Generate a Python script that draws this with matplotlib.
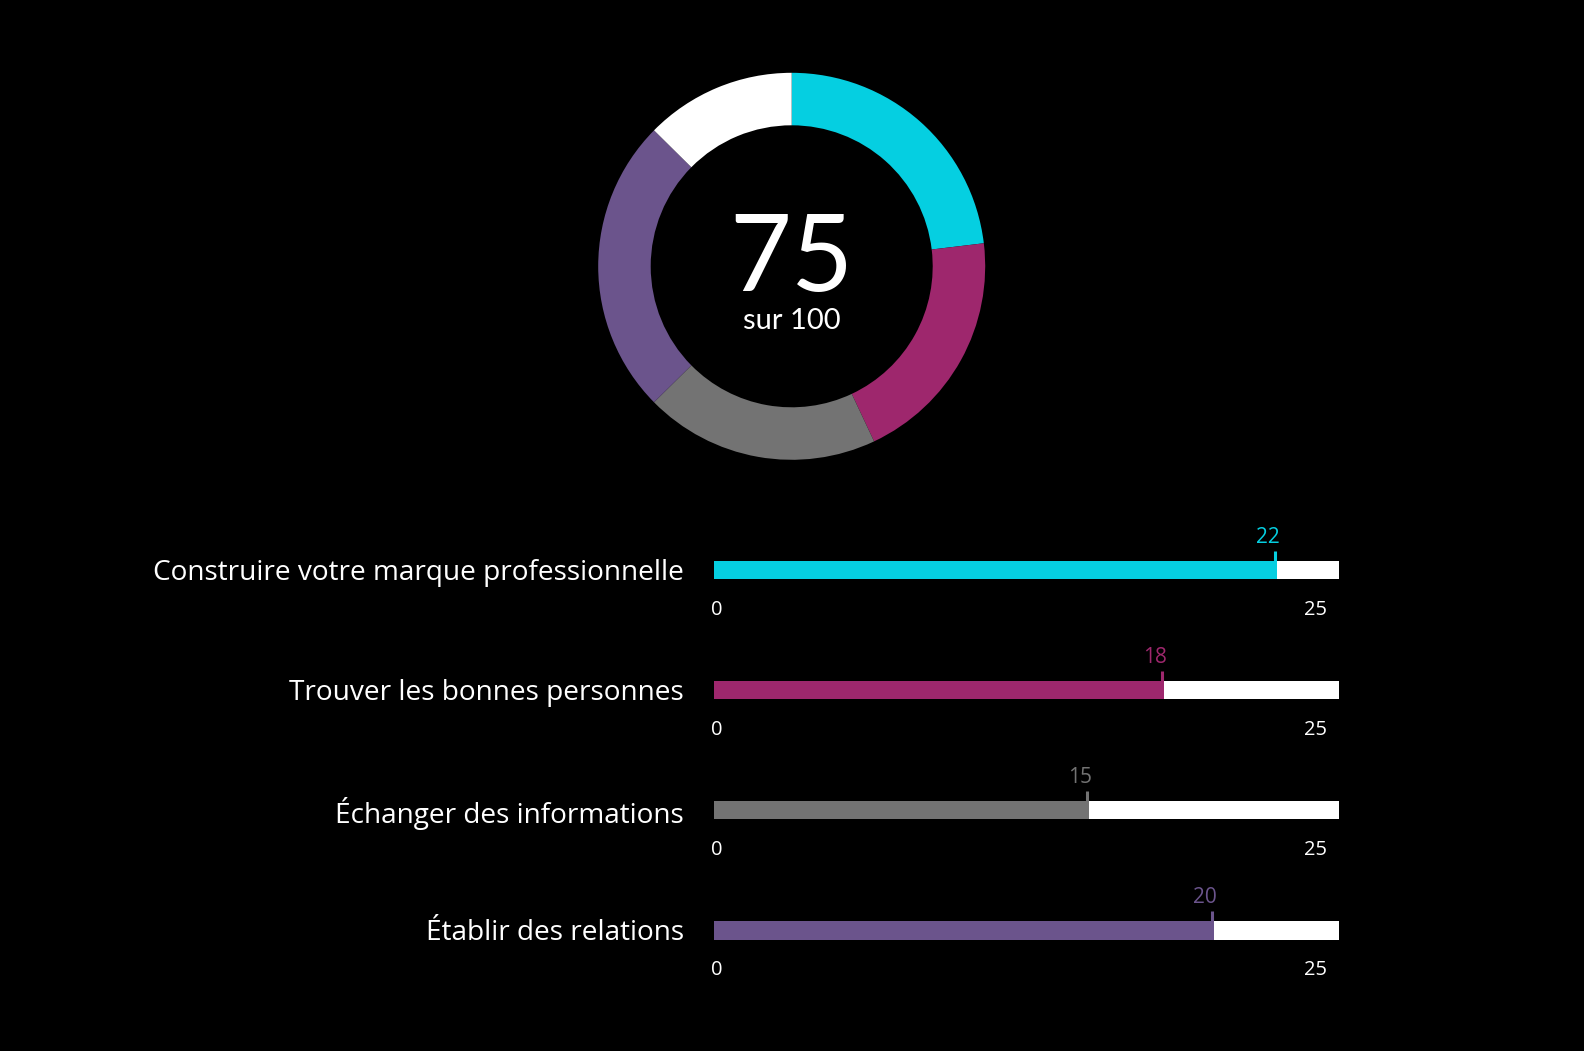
import matplotlib
matplotlib.use("Agg")
import matplotlib.pyplot as plt

# ---- data ----
categories = ["Construire votre marque professionnelle",
              "Trouver les bonnes personnes",
              "Échanger des informations",
              "Établir des relations"]
scores = [22.5, 18, 15, 20]
score_labels = ["22", "18", "15", "20"]
max_score = 25
axis_labels = ["0", "25"]
donut_values = [23.1, 19.9, 19.6, 24.8, 12.6]
total_label = "75"
total_sub = "sur 100"

colors = ["#05CFE1", "#9E276D", "#737373", "#6B548C"]
rest_color = "#FFFFFF"

W, H = 1584, 1051
fig = plt.figure(figsize=(W / 100, H / 100), dpi=100, facecolor="black")
FONT = "Open Sans"

# ---- donut ----
cx, cy, r_out, r_in = 791.7, 266.3, 193.5, 141.0
axd = fig.add_axes([(cx - r_out) / W, 1 - (cy + r_out) / H, 2 * r_out / W, 2 * r_out / H])
axd.set_facecolor("black")
axd.pie(donut_values, colors=colors + [rest_color], startangle=90, counterclock=False,
        radius=1, wedgeprops=dict(width=(r_out - r_in) / r_out, linewidth=0))
axd.set_xlim(-1, 1)
axd.set_ylim(-1, 1)
axd.set_aspect("auto")
axd.axis("off")
axd.text(0, -0.128, total_label, ha="center", va="baseline", color="white",
         fontsize=77, family="Lato")
axd.text(0, -0.325, total_sub, ha="center", va="baseline", color="white",
         fontsize=21, family="Lato")

# ---- bars ----
x0, x1 = 714.2, 1339.0
row0, step = 569.8, 120.2
top = row0 - step / 2
axb = fig.add_axes([x0 / W, 1 - (top + 4 * step) / H, (x1 - x0) / W, 4 * step / H])
axb.set_facecolor("none")
axb.set_xlim(0, max_score)
axb.set_ylim(3.5, -0.5)
axb.axis("off")

bh = 18.5 / step
for i, (cat, s, lab, c) in enumerate(zip(categories, scores, score_labels, colors)):
    axb.barh(i, max_score, height=bh, color=rest_color, linewidth=0)
    axb.barh(i, s, height=bh, color=c, linewidth=0)
    # tick above bar end
    axb.plot([s - 0.08, s - 0.08], [i - bh / 2, i - bh / 2 - 10 / step], color=c, lw=2.2,
             solid_capstyle="butt")
    axb.annotate(lab, (s, i - bh / 2), xytext=(3, 18), textcoords="offset pixels",
                 ha="right", va="baseline", color=c, fontsize=15, family=FONT)
    axb.annotate(cat, (0, i), xytext=(-30, -3), textcoords="offset pixels",
                 ha="right", va="center", color="white", fontsize=20.15, family=FONT)
    axb.annotate(axis_labels[0], (0, i), xytext=(3, -40), textcoords="offset pixels",
                 ha="center", va="center", color="white", fontsize=14.5, family=FONT)
    axb.annotate(axis_labels[1], (max_score, i), xytext=(-12, -40), textcoords="offset pixels",
                 ha="right", va="center", color="white", fontsize=14.5, family=FONT)

fig.savefig("out.png", dpi=100, facecolor="black")
